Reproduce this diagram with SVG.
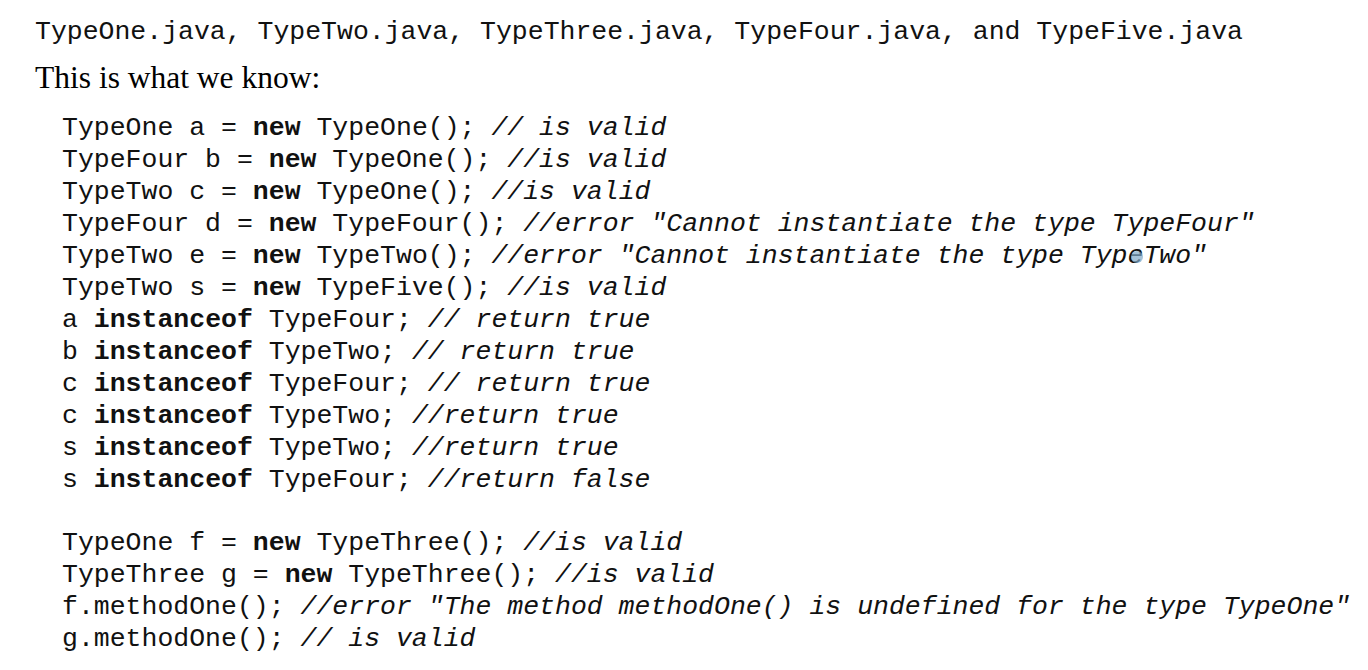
<svg xmlns="http://www.w3.org/2000/svg" width="1368" height="670" viewBox="0 0 1368 670">
<style>
.m{font-family:"Liberation Mono","Courier New",monospace;font-size:26.5px;fill:#111;white-space:pre}
.b{font-weight:bold}
.i{font-style:italic}
.s{font-family:"Liberation Serif","Times New Roman",serif;font-size:31.5px;fill:#000}
</style>
<rect width="1368" height="670" fill="#fff"/>
<text class="m" x="35" y="39" textLength="1208">TypeOne.java, TypeTwo.java, TypeThree.java, TypeFour.java, and TypeFive.java</text>
<text class="s" x="35" y="88">This is what we know:</text>
<g class="m">
<text x="62" y="135" xml:space="preserve">TypeOne a = <tspan class="b">new</tspan> TypeOne(); <tspan class="i">// is valid</tspan></text>
<text x="62" y="167" xml:space="preserve">TypeFour b = <tspan class="b">new</tspan> TypeOne(); <tspan class="i">//is valid</tspan></text>
<text x="62" y="199" xml:space="preserve">TypeTwo c = <tspan class="b">new</tspan> TypeOne(); <tspan class="i">//is valid</tspan></text>
<text x="62" y="231" xml:space="preserve">TypeFour d = <tspan class="b">new</tspan> TypeFour(); <tspan class="i">//error "Cannot instantiate the type TypeFour"</tspan></text>
<text x="62" y="263" xml:space="preserve">TypeTwo e = <tspan class="b">new</tspan> TypeTwo(); <tspan class="i">//error "Cannot instantiate the type TypeTwo"</tspan></text>
<text x="62" y="295" xml:space="preserve">TypeTwo s = <tspan class="b">new</tspan> TypeFive(); <tspan class="i">//is valid</tspan></text>
<text x="62" y="327" xml:space="preserve">a <tspan class="b">instanceof</tspan> TypeFour; <tspan class="i">// return true</tspan></text>
<text x="62" y="359" xml:space="preserve">b <tspan class="b">instanceof</tspan> TypeTwo; <tspan class="i">// return true</tspan></text>
<text x="62" y="391" xml:space="preserve">c <tspan class="b">instanceof</tspan> TypeFour; <tspan class="i">// return true</tspan></text>
<text x="62" y="423" xml:space="preserve">c <tspan class="b">instanceof</tspan> TypeTwo; <tspan class="i">//return true</tspan></text>
<text x="62" y="455" xml:space="preserve">s <tspan class="b">instanceof</tspan> TypeTwo; <tspan class="i">//return true</tspan></text>
<text x="62" y="487" xml:space="preserve">s <tspan class="b">instanceof</tspan> TypeFour; <tspan class="i">//return false</tspan></text>
<text x="62" y="550" xml:space="preserve">TypeOne f = <tspan class="b">new</tspan> TypeThree(); <tspan class="i">//is valid</tspan></text>
<text x="62" y="582" xml:space="preserve">TypeThree g = <tspan class="b">new</tspan> TypeThree(); <tspan class="i">//is valid</tspan></text>
<text x="62" y="614" xml:space="preserve">f.methodOne(); <tspan class="i">//error "The method methodOne() is undefined for the type TypeOne"</tspan></text>
<text x="62" y="646" xml:space="preserve">g.methodOne(); <tspan class="i">// is valid</tspan></text>
</g>
<circle cx="1137" cy="257" r="6" fill="#7fa8c8" opacity="0.7"/>
</svg>
